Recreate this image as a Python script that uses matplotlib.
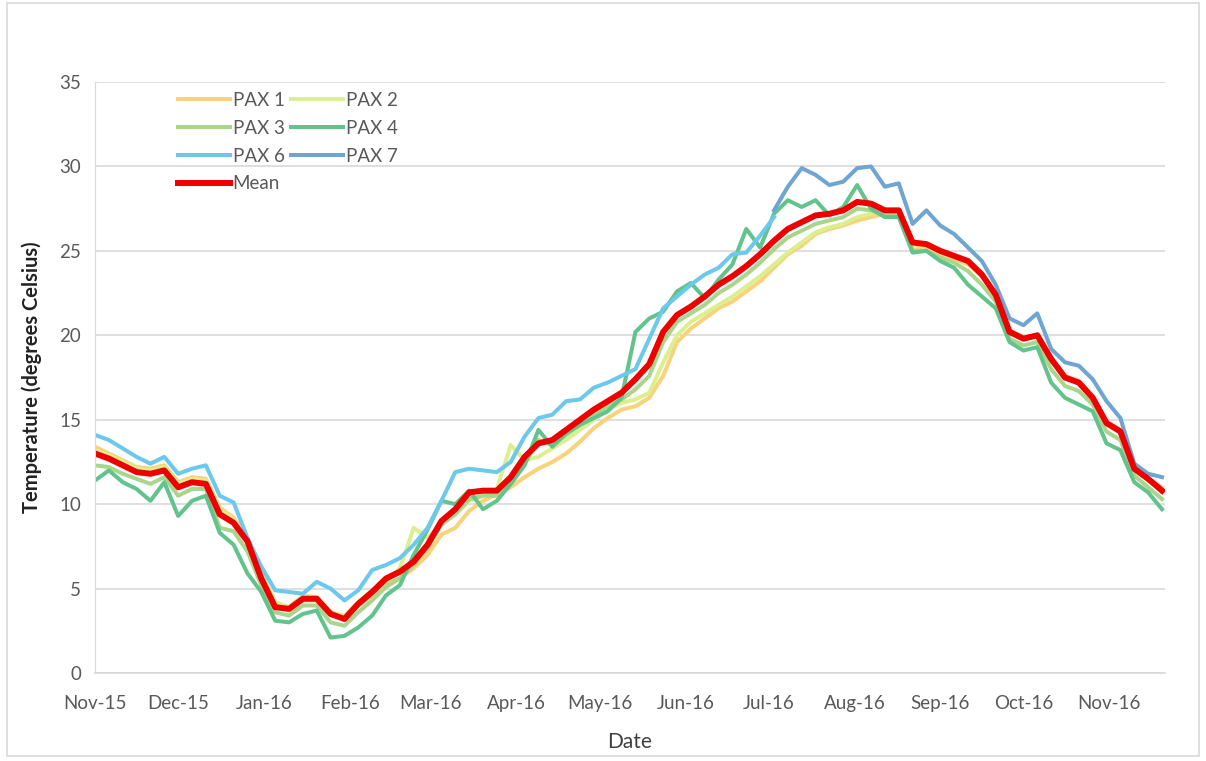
import datetime as dt
import numpy as np
import matplotlib
matplotlib.use("Agg")
import matplotlib.pyplot as plt
import matplotlib.dates as mdates
from matplotlib.patches import Rectangle

# sample days counted from 1 Nov 2015 (every 5 days)
start = dt.date(2015, 11, 1)
days = list(range(0, 390, 5))
nan = np.nan

pax1 = [13.4, 13.0, 12.6, 12.2, 12.1, 12.3, 11.3, 11.6, 11.5, 9.8, 9.2, 8.0, 5.8, 4.0, 3.7, 4.3,
        4.3, 3.4, 3.3, 4.0, 4.6, 5.3, 5.6, 6.2, 7.0, 8.2, 8.6, 9.6, 10.2, 10.6, 11.0, 11.6,
        12.1, 12.5, 13.0, 13.7, 14.5, 15.1, 15.6, 15.8, 16.3, 17.6, 19.6, 20.4, 21.0, 21.6,
        22.0, 22.6, 23.2, 24.0, 24.8, 25.3, 26.0, 26.3, 26.5, 26.8, 27.0, 27.2, 27.3, 25.2,
        25.2, 24.8, 24.5, 24.2, 23.5, 22.4, 20.3, 19.9, 20.0, 18.7, 17.6, 17.3, 16.4, 14.9,
        14.4, 12.2, 11.5, 11.0]
pax2 = [13.2, 12.9, 12.5, 12.1, 12.0, 12.2, 11.2, 11.5, 11.4, 9.7, 9.1, 8.0, 5.9, 4.2, 3.9, 4.6,
        4.5, 3.6, 3.4, 4.2, 4.9, 5.5, 6.2, 8.6, 8.0, 8.8, 9.4, 10.2, 10.5, 10.9, 13.5, 12.6,
        12.8, 13.3, 13.8, 14.4, 15.0, 15.6, 16.0, 16.2, 16.6, 18.4, 20.0, 20.8, 21.3, 21.8,
        22.3, 22.9, 23.5, 24.2, 24.9, 25.5, 26.1, 26.4, 26.6, 27.0, 27.2, 27.3, 27.3, 25.3,
        25.3, 24.9, 24.6, 24.3, 23.6, 22.5, 20.2, 19.8, 20.0, 18.6, 17.5, 17.2, 16.3, 14.8,
        14.3, 12.1, 11.4, 10.9]
pax3 = [12.3, 12.2, 11.8, 11.5, 11.2, 11.6, 10.5, 10.9, 10.9, 8.6, 8.4, 7.2, 5.2, 3.6, 3.4, 4.0,
        4.0, 3.0, 2.8, 3.6, 4.3, 5.1, 5.6, 6.4, 7.4, 8.8, 9.4, 10.3, 10.5, 10.5, 11.2, 12.4,
        13.8, 13.5, 14.1, 14.7, 15.3, 15.8, 16.2, 16.8, 17.6, 19.6, 20.8, 21.3, 21.8, 22.5,
        23.0, 23.6, 24.3, 25.1, 25.8, 26.2, 26.6, 26.8, 27.0, 27.5, 27.4, 27.1, 27.1, 25.0,
        25.0, 24.6, 24.3, 23.8, 23.0, 22.0, 19.8, 19.4, 19.6, 18.0, 17.0, 16.7, 15.9, 14.3,
        13.8, 11.7, 11.0, 10.3]
pax4 = [11.4, 12.0, 11.3, 10.9, 10.2, 11.3, 9.3, 10.2, 10.5, 8.3, 7.6, 5.9, 4.8, 3.1, 3.0, 3.5,
        3.7, 2.1, 2.2, 2.7, 3.4, 4.6, 5.2, 7.0, 8.5, 10.2, 10.0, 10.8, 9.7, 10.2, 11.2, 12.3,
        14.4, 13.4, 14.2, 14.7, 15.1, 15.5, 16.3, 20.2, 21.0, 21.4, 22.6, 23.1, 22.2, 23.3,
        24.2, 26.3, 25.2, 27.2, 28.0, 27.6, 28.0, 27.1, 27.6, 28.9, 27.5, 27.0, 27.0, 24.9,
        25.0, 24.4, 24.0, 23.0, 22.3, 21.6, 19.6, 19.1, 19.3, 17.2, 16.3, 15.9, 15.5, 13.6,
        13.2, 11.3, 10.7, 9.7]
pax6 = [14.1, 13.8, 13.3, 12.8, 12.4, 12.8, 11.8, 12.1, 12.3, 10.5, 10.1, 8.0, 6.3, 4.9, 4.8, 4.7,
        5.4, 5.0, 4.3, 4.9, 6.1, 6.4, 6.8, 7.6, 8.6, 10.2, 11.9, 12.1, 12.0, 11.9, 12.5, 14.0,
        15.1, 15.3, 16.1, 16.2, 16.9, 17.2, 17.6, 18.0, 19.8, 21.6, 22.3, 23.0, 23.6, 24.0,
        24.8, 24.9, 25.9, 27.0] + [nan] * 28
pax7 = [nan] * 49 + [27.4, 28.8, 29.9, 29.5, 28.9, 29.1, 29.9, 30.0, 28.8, 29.0, 26.6,
        27.4, 26.5, 26.0, 25.2, 24.4, 23.0, 21.0, 20.6, 21.3, 19.2, 18.4, 18.2, 17.4, 16.1,
        15.1, 12.4, 11.8, 11.6]
mean = [13.0, 12.7, 12.3, 11.9, 11.8, 12.0, 11.0, 11.3, 11.2, 9.4, 8.9, 7.8, 5.6, 3.9, 3.8, 4.4,
        4.4, 3.5, 3.2, 4.1, 4.8, 5.6, 6.0, 6.6, 7.6, 9.0, 9.7, 10.7, 10.8, 10.8, 11.6, 12.8,
        13.6, 13.8, 14.4, 15.0, 15.6, 16.1, 16.6, 17.4, 18.3, 20.2, 21.2, 21.7, 22.3, 23.0,
        23.5, 24.1, 24.8, 25.6, 26.3, 26.7, 27.1, 27.2, 27.4, 27.9, 27.8, 27.4, 27.4, 25.5,
        25.4, 25.0, 24.7, 24.4, 23.6, 22.4, 20.2, 19.8, 20.0, 18.6, 17.5, 17.2, 16.3, 14.8,
        14.3, 12.1, 11.5, 10.8]

series = [
    ("PAX 1", pax1, "#F9D27A"),
    ("PAX 2", pax2, "#DCEF8E"),
    ("PAX 3", pax3, "#A8D68C"),
    ("PAX 4", pax4, "#62C38C"),
    ("PAX 6", pax6, "#6CC8EC"),
    ("PAX 7", pax7, "#6EA5D2"),
]

dates = [start + dt.timedelta(days=d) for d in days]

plt.rcParams['font.family'] = ['Lato', 'DejaVu Sans']

fig = plt.figure(figsize=(12.06, 7.61), dpi=100)
ax = fig.add_axes([0.0788, 0.1156, 0.887, 0.7766])

handles = {}
for name, vals, col in series:
    ln, = ax.plot(dates, vals, color=col, lw=2.9, label=name, solid_joinstyle='round')
    handles[name] = ln
ln, = ax.plot(dates, mean, color="#EE0000", lw=4.3, label="Mean", solid_joinstyle='round')
handles["Mean"] = ln

ax.set_ylim(0, 35)
ax.set_yticks(range(0, 36, 5))
ax.set_xlim(start, start + dt.timedelta(days=386))
ax.xaxis.set_major_locator(mdates.MonthLocator())
ax.xaxis.set_major_formatter(mdates.DateFormatter('%b-%y'))

ax.grid(axis='y', color='#D9D9D9', lw=1.2)
ax.set_axisbelow(True)
for s in ['top', 'right']:
    ax.spines[s].set_visible(False)
ax.spines['left'].set_color('#D9D9D9')
ax.spines['bottom'].set_color('#D9D9D9')
ax.spines['bottom'].set_linewidth(1.2)
ax.tick_params(axis='both', length=0, labelsize=13.5, labelcolor='#595959', pad=10)
ax.tick_params(axis='x', pad=16)

ax.set_xlabel('Date', fontsize=15, color='#404040', labelpad=14)
ax.set_ylabel('Temperature (degrees Celsius)', fontsize=14.5, fontweight='bold', color='#222222', labelpad=12)

order = ["PAX 1", "PAX 3", "PAX 6", "Mean", "PAX 2", "PAX 4", "PAX 7"]
leg = ax.legend([handles[k] for k in order], order, ncol=2, frameon=False,
                loc='upper left', bbox_to_anchor=(0.062, 1.012), fontsize=13.5,
                handlelength=2.75, handletextpad=0.15, columnspacing=0.35,
                labelspacing=0.58)
for t in leg.get_texts():
    t.set_color('#595959')

fig.patches.append(Rectangle((0.006, 0.006), 0.988, 0.99, transform=fig.transFigure,
                             fill=False, edgecolor='#D9D9D9', lw=1.2))

fig.savefig('out.png', dpi=100)
